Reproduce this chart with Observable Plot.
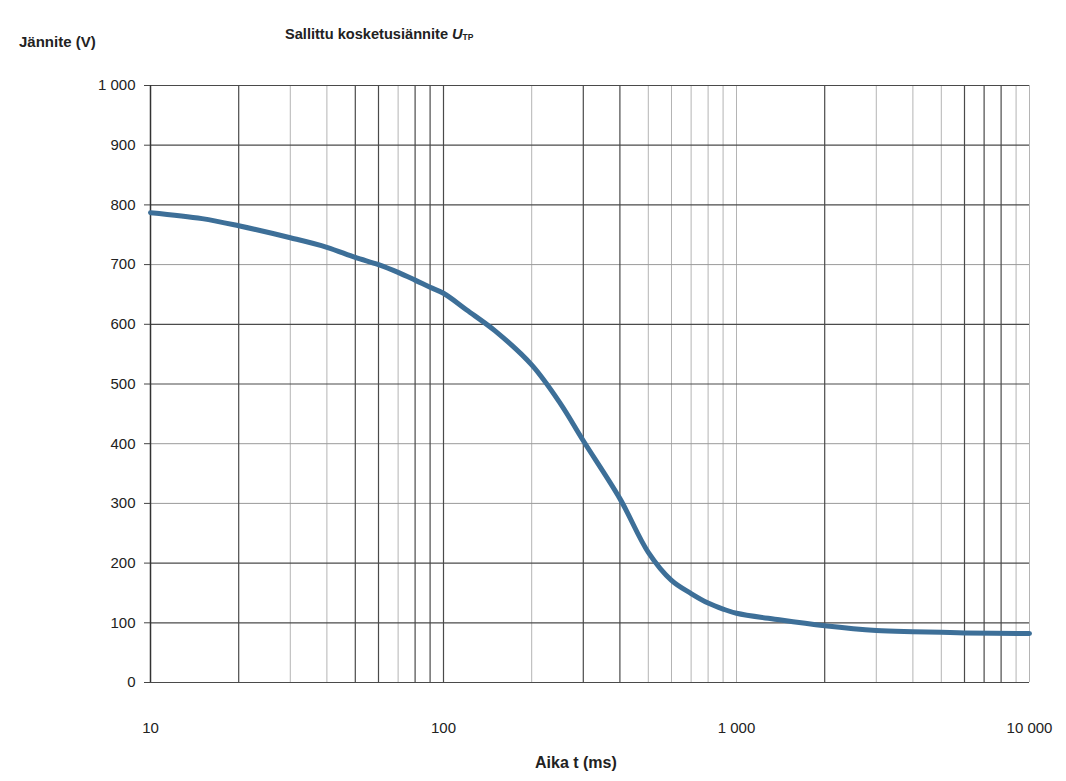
<!DOCTYPE html>
<html>
<head>
<meta charset="utf-8">
<script src="https://cdn.jsdelivr.net/npm/d3@7"></script>
<script src="https://cdn.jsdelivr.net/npm/@observablehq/plot@0.6"></script>
<style>
  body { margin: 0; background: #fff; font-family: "Liberation Sans", Arial, sans-serif; }
  #wrap { position: relative; width: 1066px; height: 781px; }
  .lbl { position: absolute; font-weight: bold; color: #222; white-space: nowrap; }
  #ytitle { left: 19px; top: 33px; font-size: 15px; }
  #title { left: 285px; top: 26px; font-size: 14.6px; }
  #title sub { font-size: 8.5px; vertical-align: -1px; }
  #xtitle { left: 535px; top: 754px; font-size: 16px; }
</style>
</head>
<body>
<div id="wrap">
  <div class="lbl" id="ytitle">Jännite (V)</div>
  <div class="lbl" id="title">Sallittu kosketusiännite <i>U</i><sub>TP</sub></div>
  <div class="lbl" id="xtitle">Aika t (ms)</div>
</div>
<script>
// Curve: permissible touch voltage U_TP vs time
const times = [10, 15, 20, 30, 40, 50, 60, 70, 80, 90, 100, 120, 150, 200, 250, 300, 400, 500, 600, 700, 800, 900, 1000, 1400, 2000, 3000, 4000, 5000, 6000, 10000];
const volts = [787, 777, 765, 745, 729, 712, 700, 687, 674, 662, 652, 624, 589, 532, 468, 405, 308, 218, 171, 149, 133, 123, 116, 105, 95, 87, 85, 84, 83, 82];

// Tick labels and grid values
const xTicks = [10, 100, 1000, 10000];
const yTicks = [0, 100, 200, 300, 400, 500, 600, 700, 800, 900, 1000];
const gridXDark = [20, 50, 60, 80, 90, 100, 300, 400, 2000, 6000, 7000, 8000];
const gridXLight = [30, 40, 70, 200, 500, 600, 700, 800, 900, 1000, 3000, 4000, 5000, 9000, 10000];
const gridYDark = [0, 100, 200, 500, 600, 800, 900, 1000];
const gridYLight = [300, 400, 700];

const data = times.map((t, i) => ({t, v: volts[i]}));
const fmt = d => d3.format(",")(d).replace(/,/g, " ");

const chart = Plot.plot({
  width: 1066,
  height: 781,
  marginLeft: 150,
  marginRight: 37,
  marginTop: 85,
  marginBottom: 99,
  style: {fontFamily: "'Liberation Sans', Arial, sans-serif", fontSize: "15px", color: "#222", background: "transparent"},
  x: {type: "log", domain: [10, 10000]},
  y: {domain: [0, 1000]},
  marks: [
    Plot.ruleX(gridXLight, {stroke: "#b4b4b4", strokeWidth: 1}),
    Plot.ruleY(gridYLight, {stroke: "#9a9a9a", strokeWidth: 1}),
    Plot.ruleX(gridXDark, {stroke: "#4a4a4a", strokeWidth: 1.2}),
    Plot.ruleY(gridYDark, {stroke: "#4a4a4a", strokeWidth: 1.2}),
    Plot.ruleX([10], {stroke: "#333", strokeWidth: 1.5}),
    Plot.axisY({ticks: yTicks, tickFormat: fmt, tickSize: 6, tickPadding: 9, label: null, stroke: "#444"}),
    Plot.axisX({ticks: xTicks, tickFormat: fmt, tickSize: 0, tickPadding: 40, label: null}),
    Plot.line(data, {x: "t", y: "v", stroke: "#3d6f98", strokeWidth: 5, curve: "catmull-rom"})
  ]
});
chart.style.position = "absolute";
chart.style.left = "0";
chart.style.top = "0";
document.getElementById("wrap").prepend(chart);
</script>
</body>
</html>
